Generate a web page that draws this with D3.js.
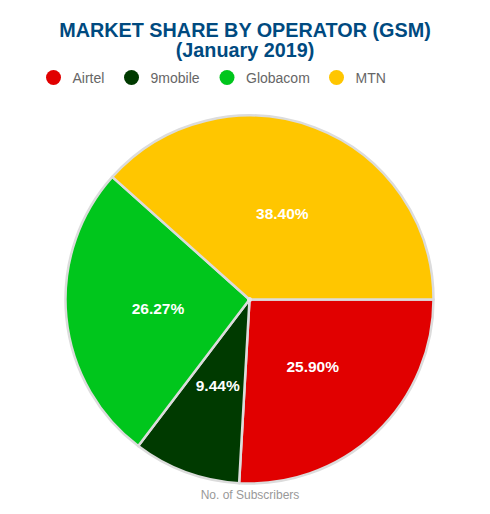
<!DOCTYPE html>
<html>
<head>
<meta charset="utf-8">
<script src="https://cdn.jsdelivr.net/npm/d3@7"></script>
<style>
  body { margin: 0; background: #fff; }
  svg { display: block; font-family: "Liberation Sans", Arial, sans-serif; }
</style>
</head>
<body>
<svg id="chart"></svg>
<script>
// chart data
const operators = ['Airtel', '9mobile', 'Globacom', 'MTN'];
const shares = [25.90, 9.44, 26.27, 38.40];
const colors = ['#e10000', '#003a00', '#00c61c', '#ffc600'];

const width = 490, height = 514;
const cx = 249.5, cy = 299.5, radius = 184;

const svg = d3.select('#chart')
    .attr('width', width)
    .attr('height', height);

// Title
const title = svg.append('text')
    .attr('text-anchor', 'middle')
    .attr('fill', '#004a80')
    .style('font-size', '19.8px')
    .style('font-weight', 'bold');
title.append('tspan').attr('x', 245).attr('y', 36.5).text('MARKET SHARE BY OPERATOR (GSM)');
title.append('tspan').attr('x', 245).attr('y', 56.5).text('(January 2019)');

// Legend
const legendX = [53.5, 131.5, 227, 336.5];
const legend = svg.append('g').attr('class', 'legend');
const item = legend.selectAll('g')
    .data(operators)
  .join('g')
    .attr('transform', (d, i) => `translate(${legendX[i]},77.5)`);
item.append('circle')
    .attr('r', 7.5)
    .attr('fill', (d, i) => colors[i]);
item.append('text')
    .attr('x', 19)
    .attr('y', 5)
    .attr('fill', '#666')
    .style('font-size', '14px')
    .text(d => d);

// Pie
const data = operators.map((name, i) => ({name, value: shares[i], color: colors[i]}));

const pie = d3.pie()
    .value(d => d.value)
    .sort(null)
    .startAngle(Math.PI / 2)
    .endAngle(Math.PI / 2 + 2 * Math.PI);

const arc = d3.arc()
    .innerRadius(0)
    .outerRadius(radius);

const chart = svg.append('g')
    .attr('transform', `translate(${cx},${cy})`);

const arcs = pie(data);

chart.selectAll('path')
    .data(arcs)
  .join('path')
    .attr('d', arc)
    .attr('fill', d => d.data.color)
    .attr('stroke', '#dcdcdc')
    .attr('stroke-width', 2.5)
    .attr('stroke-linejoin', 'round');

// little hub where the borders meet
chart.append('circle')
    .attr('r', 2.5)
    .attr('fill', '#e6e6e6');

// labels at half radius
const labelArc = d3.arc()
    .innerRadius(radius / 2)
    .outerRadius(radius / 2);

chart.selectAll('.slice-label')
    .data(arcs)
  .join('text')
    .attr('class', 'slice-label')
    .attr('transform', d => `translate(${labelArc.centroid(d)})`)
    .attr('text-anchor', 'middle')
    .attr('dy', '0.35em')
    .attr('fill', '#fff')
    .style('font-size', '15.5px')
    .style('font-weight', 'bold')
    .text(d => d.data.value.toFixed(2) + '%');

// x label
svg.append('text')
    .attr('x', 250)
    .attr('y', 499)
    .attr('text-anchor', 'middle')
    .attr('fill', '#999')
    .style('font-size', '12px')
    .text('No. of Subscribers');
</script>
</body>
</html>
